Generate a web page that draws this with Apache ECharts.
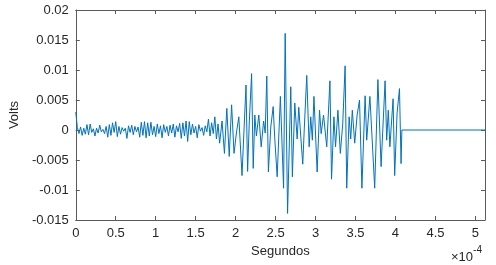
<!DOCTYPE html>
<html>
<head>
<meta charset="utf-8">
<script src="https://cdn.jsdelivr.net/npm/echarts@6/dist/echarts.min.js"></script>
<style>html,body{margin:0;padding:0;background:#fff}#c{width:496px;height:265px}</style>
</head>
<body>
<div id="c"></div>
<script>
// time in microseconds
const timeUs = [
  0,2,4,6,8,10,12,14,16,18,20,22,24,26,28,30,32,34,36,38,40,42,44,46,48,50,52,54,56,58,
  60,62,64,66,68,70,72,74,76,78,80,82,84,86,88,90,92,94,96,98,100,102,104,106,108,110,112,114,116,118,
  120,122,124,126,128,130,132,134,136,138,140,142,144,146,148,150,152,154,156,158,160,162,164,166,168,170,172,174,176,178,180,
  183,186,189,192,195,198,201,204,208,211,213,215,217,220,222,224,226,229,232,235,237,239,241,244,247,249,252,
  256,260,262,265,269,271,274,277,279,282,284,286,289,292,294,296,298,302,305,307,310,314,318,320,323,325,328,331,334,
  337,339,342,344,346,349,352,355,358,362,364,368,374,378,382,387,389,391,393,397,399,402,405,407,408,512
];
// voltage in millivolts
const milliVolts = [
  3.0,0.4,-0.6,0.5,-0.9,0.3,-0.7,0.9,-0.8,1.0,-0.4,0.2,-1.0,0.3,-0.5,0.8,-0.3,0.1,-0.6,0.6,-1.2,0.9,-0.9,1.2,-0.4,1.4,-1.1,0.6,-0.7,0.4,
  -0.2,0.3,-1.4,0.7,-0.4,0.8,-0.8,0.6,-0.3,0.5,-1.2,1.3,-0.9,1.4,-1.3,1.2,-1.0,1.3,-0.8,0.6,-1.1,1.0,-0.6,0.7,-1.3,0.9,-0.4,0.6,-1.0,0.8,
  -0.5,1.0,-1.2,0.7,-0.3,1.1,-1.4,1.2,-1.0,1.5,-1.9,1.4,-0.8,1.0,-0.5,0.6,-1.3,0.9,-0.2,0.4,-0.9,0.7,-0.3,1.8,-1.0,1.2,-0.6,2.2,-1.5,1.0,-2.2,
  1.5,-3.9,3.6,-4.4,4.2,-3.9,-0.5,2.2,-7.6,1.5,7.5,-6.9,1.0,9.4,-6.4,2.5,-1.0,2.5,-2.8,1.5,-0.5,9.0,-7.0,0.5,3.9,-1.5,-7.8,
  5.6,-9.7,16.1,-13.9,7.2,-7.8,4.5,-1.5,3.8,-2.0,-5.7,0.5,9.1,-2.8,2.2,-1.7,5.6,-7.0,3.3,-0.6,2.5,-2.8,8.2,-8.2,2.2,-2.8,3.3,-3.9,1.0,
  10.7,-9.7,2.2,-1.5,3.3,-2.2,2.5,5.0,-9.7,5.7,-1.7,5.6,-9.7,8.4,-6.1,8.2,-1.7,3.3,-2.8,5.2,-7.6,2.8,6.9,-5.6,0,0
];
const xTickLabels = ['0','0.5','1','1.5','2','2.5','3','3.5','4','4.5','5'];
const yTickLabels = ['-0.015','-0.01','-0.005','0','0.005','0.01','0.015','0.02'];

const data = timeUs.map((t, i) => [t, milliVolts[i] / 1000]);
const chart = echarts.init(document.getElementById('c'), null, {renderer: 'canvas'});
const axisColor = '#5a5a5a';
const labelStyle = {color: '#262626', fontFamily: 'Liberation Sans, Arial, sans-serif', fontSize: 13};
const frame = {show: true, onZero: false, lineStyle: {color: axisColor, width: 1}};
const tick = {show: true, inside: true, length: 4, lineStyle: {color: axisColor}};
chart.setOption({
  animation: false,
  grid: {left: 64, right: 11, top: 10, bottom: 45},
  xAxis: [{
    type: 'value', min: 0, max: 512, interval: 50, position: 'bottom',
    axisLine: frame, axisTick: tick, splitLine: {show: false},
    axisLabel: Object.assign({margin: 7, showMaxLabel: false, formatter: v => {
      const k = Math.round(v / 50); return (Math.abs(v - k * 50) < 1e-6 && xTickLabels[k] !== undefined) ? xTickLabels[k] : '';
    }}, labelStyle),
    name: 'Segundos', nameLocation: 'middle', nameGap: 24,
    nameTextStyle: Object.assign({}, labelStyle)
  }, {
    type: 'value', min: 0, max: 512, interval: 50, position: 'top',
    axisLine: frame, axisTick: tick, axisLabel: {show: false}, splitLine: {show: false}
  }],
  yAxis: [{
    type: 'value', min: -0.015, max: 0.02, interval: 0.005, position: 'left',
    axisLine: frame, axisTick: tick, splitLine: {show: false},
    axisLabel: Object.assign({margin: 7, formatter: v => {
      const k = Math.round((v + 0.015) / 0.005); return yTickLabels[k] !== undefined ? yTickLabels[k] : '';
    }}, labelStyle),
    name: 'Volts', nameLocation: 'middle', nameGap: 46, nameRotate: 90,
    nameTextStyle: Object.assign({}, labelStyle)
  }, {
    type: 'value', min: -0.015, max: 0.02, interval: 0.005, position: 'right',
    axisLine: frame, axisTick: tick, axisLabel: {show: false}, splitLine: {show: false}
  }],
  graphic: [{
    type: 'text', left: 451, top: 245,
    style: {
      text: '{a|×10}{b|-4}',
      rich: {
        a: {fontSize: 13, fontFamily: 'Liberation Sans, Arial, sans-serif', fill: '#262626', padding: [6, 0, 0, 0]},
        b: {fontSize: 10, fontFamily: 'Liberation Sans, Arial, sans-serif', fill: '#262626', verticalAlign: 'top'}
      }
    }
  }],
  series: [{
    type: 'line', data: data, showSymbol: false, symbol: 'none',
    lineStyle: {color: '#0072BD', width: 1}, clip: true
  }]
});
</script>
</body>
</html>
